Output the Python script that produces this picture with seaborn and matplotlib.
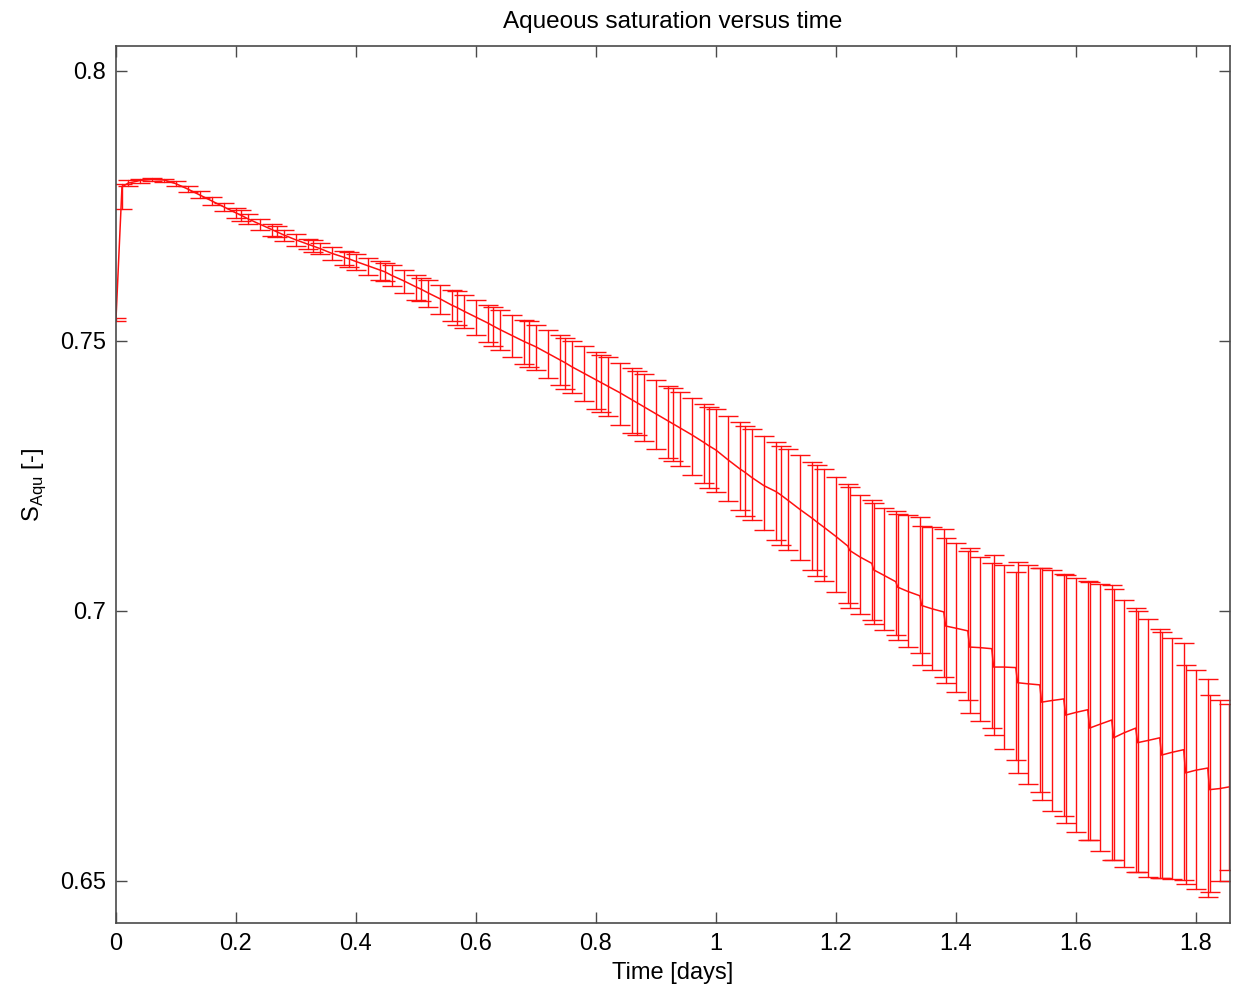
import numpy as np
import pandas as pd
import matplotlib
matplotlib.use('Agg')
import matplotlib.pyplot as plt
import seaborn as sns

# data (time in days, aqueous saturation)
time_days = [0.0, 0.01, 0.02, 0.04, 0.06, 0.08, 0.10, 0.12, 0.14, 0.16, 0.18,
             0.20, 0.208, 0.22, 0.24, 0.26, 0.268, 0.28, 0.30, 0.32, 0.328, 0.34, 0.36, 0.38, 0.388,
             0.40, 0.42, 0.44, 0.448, 0.46, 0.48, 0.50, 0.508, 0.52, 0.54, 0.56, 0.568, 0.58,
             0.60, 0.62, 0.628, 0.64, 0.66, 0.68, 0.688, 0.70, 0.72, 0.74, 0.748, 0.76, 0.78,
             0.80, 0.808, 0.82, 0.84, 0.86, 0.868, 0.88, 0.90, 0.92, 0.928, 0.94, 0.96, 0.98, 0.988,
             1.00, 1.02, 1.04, 1.048, 1.06, 1.08, 1.10, 1.108, 1.12, 1.14, 1.16, 1.168, 1.18,
             1.20, 1.22, 1.223, 1.24, 1.26, 1.263, 1.28, 1.30, 1.303, 1.32,
             1.34, 1.343, 1.36, 1.38, 1.383, 1.40, 1.42, 1.423, 1.44, 1.46,
             1.463, 1.48, 1.50, 1.503, 1.52, 1.54, 1.543, 1.56, 1.58, 1.583,
             1.60, 1.62, 1.623, 1.64, 1.66, 1.663, 1.68, 1.70, 1.703, 1.72,
             1.74, 1.743, 1.76, 1.78, 1.783, 1.80, 1.82, 1.823, 1.84, 1.855]

sat_mean = [0.7540, 0.7785, 0.7792, 0.7797, 0.7799, 0.7798, 0.7791, 0.7781, 0.7770, 0.7759, 0.7748,
            0.7737, 0.7733, 0.7726, 0.7716, 0.7706, 0.7702, 0.7696, 0.7687, 0.7679, 0.7676, 0.7671, 0.7662, 0.7655, 0.7652,
            0.7647, 0.7639, 0.7631, 0.7628, 0.7621, 0.7611, 0.7600, 0.7596, 0.7589, 0.7578, 0.7566, 0.7562, 0.7555,
            0.7544, 0.7533, 0.7528, 0.7521, 0.7510, 0.7499, 0.7495, 0.7489, 0.7477, 0.7465, 0.7460, 0.7452, 0.7440,
            0.7428, 0.7423, 0.7416, 0.7404, 0.7391, 0.7386, 0.7378, 0.7365, 0.7352, 0.7347, 0.7339, 0.7326, 0.7312, 0.7306,
            0.7298, 0.7280, 0.7263, 0.7257, 0.7247, 0.7232, 0.7221, 0.7215, 0.7205, 0.7188, 0.7172, 0.7165, 0.7155,
            0.7138, 0.7120, 0.7112, 0.7100, 0.7088, 0.7076, 0.7066, 0.7054, 0.7044, 0.7036,
            0.7028, 0.7010, 0.7004, 0.6998, 0.6972, 0.6968, 0.6963, 0.6933, 0.6932, 0.6930,
            0.6896, 0.6896, 0.6895, 0.6867, 0.6865, 0.6863, 0.6831, 0.6834, 0.6837, 0.6807,
            0.6812, 0.6817, 0.6783, 0.6790, 0.6798, 0.6765, 0.6774, 0.6783, 0.6756, 0.6760,
            0.6765, 0.6733, 0.6738, 0.6743, 0.6700, 0.6705, 0.6709, 0.6669, 0.6671, 0.6674]

sat_low = [0.7537, 0.7745, 0.7786, 0.7793, 0.7796, 0.7795, 0.7786, 0.7775, 0.7764, 0.7752, 0.7741,
           0.7727, 0.7722, 0.7716, 0.7706, 0.7695, 0.7692, 0.7685, 0.7676, 0.7670, 0.7665, 0.7660, 0.7650, 0.7641, 0.7637,
           0.7632, 0.7622, 0.7613, 0.7610, 0.7601, 0.7589, 0.7576, 0.7573, 0.7563, 0.7550, 0.7537, 0.7530, 0.7524,
           0.7511, 0.7497, 0.7490, 0.7484, 0.7471, 0.7458, 0.7452, 0.7446, 0.7432, 0.7418, 0.7410, 0.7403, 0.7389,
           0.7374, 0.7368, 0.7360, 0.7345, 0.7330, 0.7325, 0.7315, 0.7300, 0.7284, 0.7278, 0.7268, 0.7252, 0.7236, 0.7228,
           0.7220, 0.7203, 0.7186, 0.7175, 0.7168, 0.7150, 0.7132, 0.7122, 0.7113, 0.7095, 0.7076, 0.7065, 0.7056,
           0.7035, 0.7015, 0.7005, 0.6995, 0.6983, 0.6975, 0.6965, 0.6955, 0.6946, 0.6933,
           0.6922, 0.6900, 0.6890, 0.6878, 0.6867, 0.6850, 0.6835, 0.6811, 0.6797, 0.6783,
           0.6770, 0.6745, 0.6724, 0.6700, 0.6680, 0.6665, 0.6650, 0.6630, 0.6620, 0.6607,
           0.6590, 0.6576, 0.6576, 0.6555, 0.6539, 0.6539, 0.6525, 0.6517, 0.6517, 0.6508,
           0.6506, 0.6506, 0.6503, 0.6502, 0.6495, 0.6485, 0.6470, 0.6480, 0.6500, 0.6520]

sat_high = [0.7543, 0.7790, 0.7797, 0.7800, 0.7801, 0.7800, 0.7796, 0.7787, 0.7777, 0.7766, 0.7755,
            0.7746, 0.7742, 0.7735, 0.7725, 0.7716, 0.7713, 0.7706, 0.7697, 0.7688, 0.7686, 0.7681, 0.7673, 0.7667, 0.7664,
            0.7660, 0.7654, 0.7647, 0.7644, 0.7640, 0.7631, 0.7622, 0.7617, 0.7613, 0.7604, 0.7594, 0.7592, 0.7585,
            0.7576, 0.7567, 0.7562, 0.7557, 0.7548, 0.7538, 0.7536, 0.7529, 0.7520, 0.7511, 0.7505, 0.7500, 0.7490,
            0.7480, 0.7474, 0.7470, 0.7459, 0.7449, 0.7444, 0.7438, 0.7427, 0.7416, 0.7412, 0.7405, 0.7395, 0.7384, 0.7378,
            0.7373, 0.7361, 0.7349, 0.7342, 0.7337, 0.7324, 0.7312, 0.7305, 0.7300, 0.7288, 0.7275, 0.7270, 0.7262,
            0.7248, 0.7235, 0.7230, 0.7215, 0.7205, 0.7200, 0.7190, 0.7185, 0.7180, 0.7177,
            0.7174, 0.7157, 0.7155, 0.7152, 0.7135, 0.7125, 0.7110, 0.7117, 0.7100, 0.7089,
            0.7104, 0.7085, 0.7072, 0.7090, 0.7085, 0.7080, 0.7080, 0.7075, 0.7069, 0.7067,
            0.7060, 0.7056, 0.7054, 0.7050, 0.7048, 0.7040, 0.7020, 0.7006, 0.7000, 0.6985,
            0.6967, 0.6960, 0.6950, 0.6941, 0.6900, 0.6890, 0.6874, 0.6845, 0.6835, 0.6828]

x_ticks = [0, 0.2, 0.4, 0.6, 0.8, 1.0, 1.2, 1.4, 1.6, 1.8]
y_ticks = [0.65, 0.7, 0.75, 0.8]

# long form: low / mean / high per time step -> median is the mean, full range is the bar
df = pd.DataFrame({
    'time': time_days * 3,
    'sat': sat_low + sat_mean + sat_high,
})

sns.set_style('ticks')
plt.rcParams['font.family'] = ['Liberation Sans', 'DejaVu Sans']
plt.rcParams['mathtext.fontset'] = 'custom'
plt.rcParams['mathtext.rm'] = 'Liberation Sans'
plt.rcParams['text.color'] = 'black'
plt.rcParams['axes.labelcolor'] = 'black'

fig = plt.figure(figsize=(12.39, 9.94), dpi=100)
ax = fig.add_axes([0.0936, 0.0714, 0.8991, 0.8823])

sns.lineplot(data=df, x='time', y='sat', estimator='median', errorbar=('pi', 100),
             err_style='bars', color='#ff1010', linewidth=1.1, ax=ax,
             err_kws={'capsize': 7.5, 'elinewidth': 1.0, 'capthick': 1.0})

ax.set_xlim(0, 1.857)
ax.set_ylim(0.6422, 0.8046)
ax.set_xticks(x_ticks)
ax.set_xticklabels([f'{v:g}' for v in x_ticks])
ax.set_yticks(y_ticks)
ax.set_yticklabels([f'{v:g}' for v in y_ticks])

for side in ['top', 'right', 'bottom', 'left']:
    ax.spines[side].set_visible(True)
    ax.spines[side].set_color('#4a4a4a')
    ax.spines[side].set_linewidth(1.2)
ax.tick_params(direction='in', length=8, width=1.0, color='#4a4a4a',
               labelsize=17, labelcolor='black', top=True, right=True, pad=7)

ax.set_xlabel('Time [days]', fontsize=17, labelpad=5)
ax.set_ylabel(r'S$_{\mathregular{Aqu}}$ [-]', fontsize=17, labelpad=9)
ax.set_title('Aqueous saturation versus time', fontsize=17.5, pad=13)

plt.savefig('out.png', dpi=100)
